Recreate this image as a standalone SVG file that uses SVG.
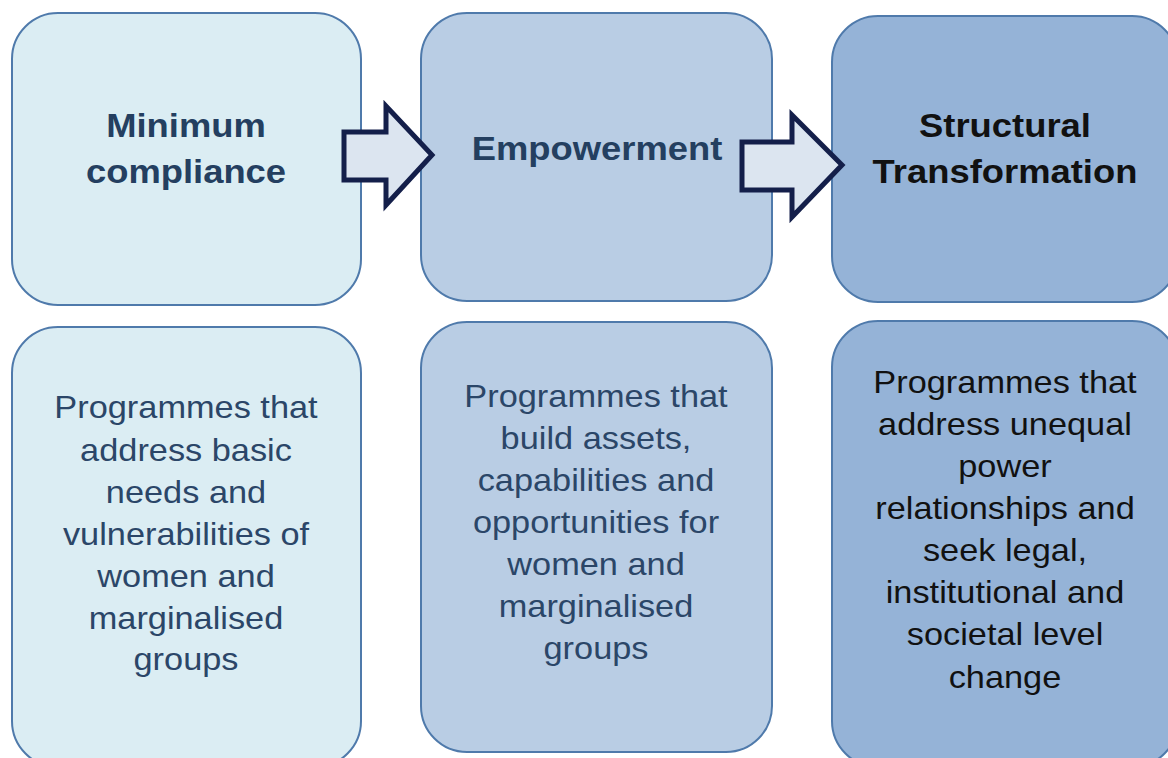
<svg xmlns="http://www.w3.org/2000/svg" width="1168" height="758" viewBox="0 0 1168 758">
<style>
.box{stroke:#4f7aab;stroke-width:2}
.c1{fill:#dbedf3}
.c2{fill:#b9cde4}
.c3{fill:#95b3d7}
.title{font-family:"Liberation Sans",Arial,sans-serif;font-weight:bold;font-size:34px;text-anchor:middle}
.body{font-family:"Liberation Sans",Arial,sans-serif;font-size:31.5px;text-anchor:middle}
.navy{fill:#243f60}
.slate{fill:#2b4668}
.black{fill:#111111}
.arrow{fill:#dce5f0;stroke:#141f4a;stroke-width:5;stroke-linejoin:miter}
</style>
<rect width="1168" height="758" fill="#ffffff"/>
<g id="node-minimum-compliance">
<rect class="box c1" x="12" y="13" width="349" height="292" rx="46"/>
<text class="title navy" transform="translate(186,0) scale(1.07,1)"><tspan x="0" y="137">Minimum</tspan><tspan x="0" y="183">compliance</tspan></text>
</g>
<g id="node-empowerment">
<rect class="box c2" x="421" y="13" width="351" height="288" rx="46"/>
<text class="title navy" transform="translate(597,0) scale(1.07,1)"><tspan x="0" y="160">Empowerment</tspan></text>
</g>
<g id="node-structural-transformation">
<rect class="box c3" x="832" y="16" width="346" height="286" rx="46"/>
<text class="title black" transform="translate(1005,0) scale(1.07,1)"><tspan x="0" y="137">Structural</tspan><tspan x="0" y="183">Transformation</tspan></text>
</g>
<g id="node-minimum-desc">
<rect class="box c1" x="12" y="327" width="349" height="440" rx="46"/>
<text class="body slate" transform="translate(186,0) scale(1.09,1)"><tspan x="0" y="418">Programmes that</tspan><tspan x="0" y="461">address basic</tspan><tspan x="0" y="503">needs and</tspan><tspan x="0" y="545">vulnerabilities of</tspan><tspan x="0" y="587">women and</tspan><tspan x="0" y="629">marginalised</tspan><tspan x="0" y="670">groups</tspan></text>
</g>
<g id="node-empowerment-desc">
<rect class="box c2" x="421" y="322" width="351" height="430" rx="46"/>
<text class="body slate" transform="translate(596,0) scale(1.09,1)"><tspan x="0" y="407">Programmes that</tspan><tspan x="0" y="449">build assets,</tspan><tspan x="0" y="491">capabilities and</tspan><tspan x="0" y="533">opportunities for</tspan><tspan x="0" y="575">women and</tspan><tspan x="0" y="617">marginalised</tspan><tspan x="0" y="659">groups</tspan></text>
</g>
<g id="node-structural-desc">
<rect class="box c3" x="832" y="321" width="346" height="446" rx="46"/>
<text class="body black" transform="translate(1005,0) scale(1.09,1)"><tspan x="0" y="393">Programmes that</tspan><tspan x="0" y="435">address unequal</tspan><tspan x="0" y="477">power</tspan><tspan x="0" y="519">relationships and</tspan><tspan x="0" y="561">seek legal,</tspan><tspan x="0" y="603">institutional and</tspan><tspan x="0" y="645">societal level</tspan><tspan x="0" y="688">change</tspan></text>
</g>
<g id="connectors">
<polygon class="arrow" points="344,132 386,132 386,106 432,155 386,205 386,180 344,180"/>
<polygon class="arrow" points="742,142 792,142 792,115 842,165 792,217 792,190 742,190"/>
</g>
</svg>
